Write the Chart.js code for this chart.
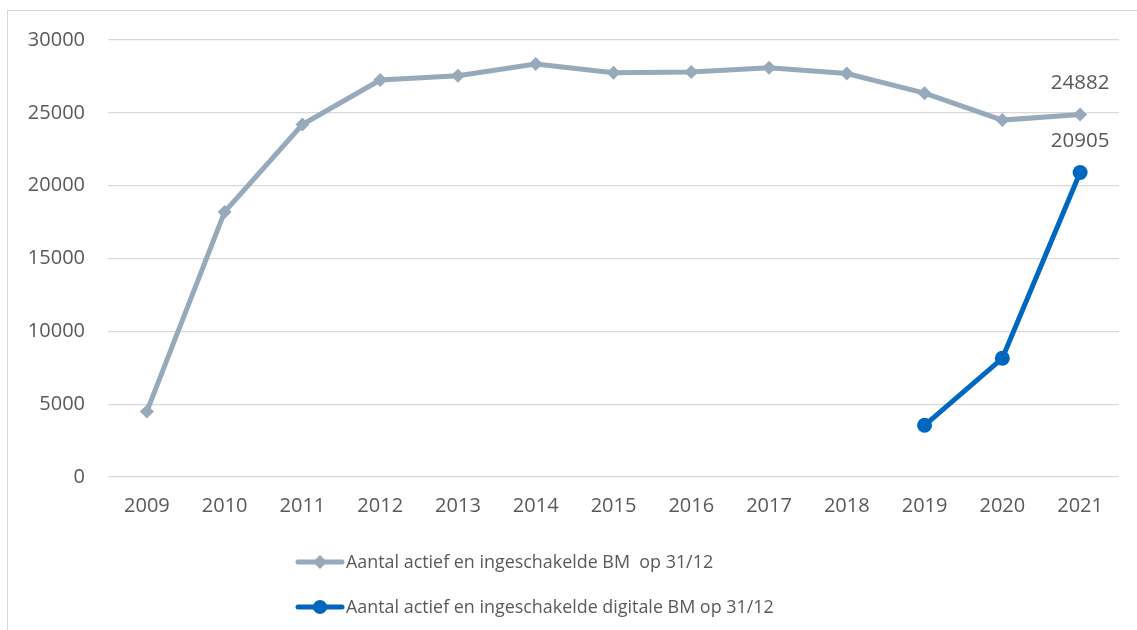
<!DOCTYPE html>
<html><head><meta charset="utf-8">
<script src="https://cdn.jsdelivr.net/npm/chart.js@4.4.1/dist/chart.umd.min.js"></script>
<style>
html,body{margin:0;padding:0;background:#fff;overflow:hidden;}
#wrap{position:relative;width:1137px;height:630px;}
#frame{position:absolute;left:7px;top:10px;width:1140px;height:640px;border:1.5px solid #D9D9D9;box-sizing:border-box;}
canvas{position:absolute;left:0;top:0;}
</style></head>
<body><div id="wrap"><div id="frame"></div><canvas id="c" width="1137" height="630"></canvas></div>
<script>
const categories = ['2009','2010','2011','2012','2013','2014','2015','2016','2017','2018','2019','2020','2021'];
const totalBM = [4500, 18200, 24200, 27250, 27550, 28350, 27750, 27800, 28100, 27700, 26350, 24500, 24882];
const digitalBM = [null, null, null, null, null, null, null, null, null, null, 3550, 8150, 20905];
const seriesNames = ['Aantal actief en ingeschakelde BM  op 31/12', 'Aantal actief en ingeschakelde digitale BM op 31/12'];
const yTicks = [0, 5000, 10000, 15000, 20000, 25000, 30000];

const GRAY = '#97AABC';
const BLUE = '#0067C0';
const TXT = '#595959';
const FONT = "'Open Sans', sans-serif";

const labelPlugin = {
  id: 'lastLabels',
  afterDatasetsDraw(chart) {
    const ctx = chart.ctx;
    ctx.save();
    ctx.fillStyle = TXT;
    ctx.font = "20.5px " + FONT;
    ctx.textAlign = 'center';
    ctx.textBaseline = 'middle';
    chart.data.datasets.forEach((ds, i) => {
      const meta = chart.getDatasetMeta(i);
      const idx = ds.data.length - 1;
      const pt = meta.data[idx];
      ctx.fillText(String(ds.data[idx]), pt.x, pt.y - 31);
    });
    ctx.restore();
  }
};

const legendPlugin = {
  id: 'customLegend',
  afterDraw(chart) {
    const ctx = chart.ctx;
    ctx.save();
    const rows = [562, 607];
    chart.data.datasets.forEach((ds, i) => {
      const y = rows[i];
      const x0 = 298, x1 = 342;
      ctx.strokeStyle = ds.borderColor;
      ctx.lineWidth = 5;
      ctx.lineCap = 'round';
      ctx.beginPath(); ctx.moveTo(x0, y); ctx.lineTo(x1, y); ctx.stroke();
      const cx = (x0 + x1) / 2;
      ctx.fillStyle = ds.borderColor;
      ctx.beginPath();
      if (ds.pointStyle === 'rectRot') {
        const r = 7;
        ctx.moveTo(cx, y - r); ctx.lineTo(cx + r, y); ctx.lineTo(cx, y + r); ctx.lineTo(cx - r, y); ctx.closePath();
      } else {
        ctx.arc(cx, y, 7, 0, Math.PI * 2);
      }
      ctx.fill();
      ctx.fillStyle = TXT;
      ctx.font = "17.9px " + FONT;
      ctx.textAlign = 'left';
      ctx.textBaseline = 'middle';
      ctx.fillText(ds.label, 346, y + 1);
    });
    ctx.restore();
  }
};

new Chart(document.getElementById('c'), {
  type: 'line',
  data: {
    labels: categories,
    datasets: [
      { label: seriesNames[0], data: totalBM, borderColor: GRAY, backgroundColor: GRAY, borderWidth: 5,
        pointStyle: 'rectRot', pointRadius: 7, pointHoverRadius: 7, pointBackgroundColor: GRAY, pointBorderWidth: 0, tension: 0 },
      { label: seriesNames[1], data: digitalBM, borderColor: BLUE, backgroundColor: BLUE, borderWidth: 5,
        pointStyle: 'circle', pointRadius: 7.5, pointHoverRadius: 7.5, pointBackgroundColor: BLUE, pointBorderWidth: 0, tension: 0, spanGaps: false }
    ]
  },
  options: {
    responsive: false,
    animation: false,
    devicePixelRatio: 1,
    layout: { padding: { top: 40, right: 18, left: 0, bottom: 0 } },
    plugins: { legend: { display: false }, tooltip: { enabled: false } },
    scales: {
      x: {
        offset: true,
        grid: { display: false, drawTicks: false },
        border: { display: false },
        ticks: { color: TXT, font: { family: FONT, size: 20 }, padding: 17, maxRotation: 0 },
        afterFit(s) { s.height = 153; }
      },
      y: {
        min: 0, max: 30000,
        afterBuildTicks(s) { s.ticks = yTicks.map(v => ({ value: v })); },
        grid: { color: '#D9D9D9', lineWidth: 1.3, drawTicks: false },
        border: { display: false },
        ticks: { color: TXT, font: { family: FONT, size: 20 }, padding: 23, callback: v => String(v) },
        afterFit(s) { s.width = 108; }
      }
    }
  },
  plugins: [labelPlugin, legendPlugin]
});
</script></body></html>
